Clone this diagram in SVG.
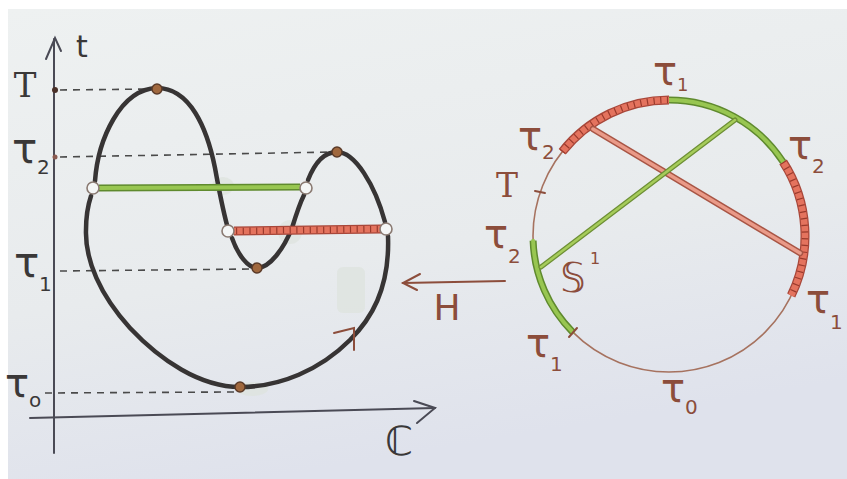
<svg xmlns="http://www.w3.org/2000/svg" width="847" height="479" viewBox="0 0 847 479">
<defs>
<linearGradient id="paper" x1="0" y1="0" x2="0.3" y2="1">
<stop offset="0" stop-color="#eef1f1"/>
<stop offset="0.6" stop-color="#e8ebed"/>
<stop offset="1" stop-color="#dfe2ec"/>
</linearGradient>
<style>
.ax{stroke:#4a4a55;stroke-width:2;fill:none;stroke-linecap:round}
.dash{stroke:#4a4a4a;stroke-width:1.6;stroke-dasharray:7 6;fill:none}
.curve{stroke:#373434;stroke-width:4.5;fill:none;stroke-linecap:round}
.dot{fill:#a0683e;stroke:#5a3a28;stroke-width:1.5}
.hole{fill:#f4f6f6;stroke:#8a7a72;stroke-width:1.6}
.gdark{stroke:#5f8a2e;stroke-width:7;fill:none;stroke-linecap:butt}
.glight{stroke:#98c651;stroke-width:4;fill:none}
.rbase{stroke:#a8473a;stroke-width:9;fill:none}
.rfill{stroke:#e4735e;stroke-width:6.5;fill:none}
.rtick{stroke:#9a3a2c;stroke-width:6.5;stroke-dasharray:1.2 5.5;fill:none}
.circ{stroke:#a6725f;stroke-width:1.6;fill:none}
.lk{font-family:"DejaVu Sans",sans-serif;fill:#3a3838}
.lb{font-family:"DejaVu Sans",sans-serif;fill:#8c4d3b}
.serif{font-family:"DejaVu Serif",serif}
.brown{stroke:#8c4d3b;stroke-width:2;fill:none;stroke-linecap:round}
.smudge{fill:#dde3dd;opacity:0.75}
</style>
</defs>
<rect x="0" y="0" width="847" height="479" fill="#ffffff"/>
<rect x="8" y="9" width="839" height="470" fill="url(#paper)"/>

<g id="smudges">
<rect class="smudge" x="337" y="267" width="28" height="46" rx="6"/>
<ellipse class="smudge" cx="223" cy="186" rx="11" ry="9"/>
<ellipse class="smudge" cx="290" cy="232" rx="12" ry="12"/>
<ellipse class="smudge" cx="252" cy="389" rx="16" ry="7"/>
</g>

<g id="axes">
<line class="ax" x1="54" y1="39" x2="54" y2="453"/>
<polyline class="ax" points="46,59 55,38 61,51"/>
<line class="ax" x1="30" y1="418" x2="435" y2="408"/>
<polyline class="ax" points="414,401 435,408 417,423"/>
</g>

<g id="dashes">
<line class="dash" x1="60" y1="90" x2="152" y2="89"/>
<line class="dash" x1="60" y1="157" x2="332" y2="152"/>
<line class="dash" x1="60" y1="271" x2="252" y2="269"/>
<line class="dash" x1="45" y1="393" x2="234" y2="392"/>
</g>

<g id="curve">
<path class="curve" d="M95,181 C98,140 120,89 157,88 C190,88 207,128 215,168 C219,190 223,210 227,225"/>
<path class="curve" d="M232,238 C238,255 248,268 257,268 C270,268 284,248 292,228 C296,215 300,203 304,195"/>
<path class="curve" d="M308,180 C315,162 325,152 337,152 C355,152 375,185 385,222"/>
<path class="curve" d="M388,236 C390,290 370,320 350,340 C320,370 280,387 240,387 C200,387 160,360 130,328 C100,295 85,260 86,230 C86,215 88,205 91,196"/>
<polyline class="brown" points="334,333 354,328 354,350"/>
</g>

<g id="bars">
<line class="gdark" x1="99" y1="188" x2="300" y2="187"/>
<line class="glight" x1="99" y1="188" x2="300" y2="187"/>
<line class="rbase" x1="234" y1="231" x2="381" y2="229"/>
<line class="rfill" x1="234" y1="231" x2="381" y2="229"/>
<line class="rtick" x1="236" y1="231" x2="381" y2="229"/>
</g>

<g id="points">
<circle class="hole" cx="93" cy="188" r="6"/>
<circle class="hole" cx="306" cy="188" r="6"/>
<circle class="hole" cx="228" cy="231" r="6"/>
<circle class="hole" cx="386" cy="229" r="6"/>
<circle class="dot" cx="157" cy="89" r="5"/>
<circle class="dot" cx="337" cy="152" r="5"/>
<circle class="dot" cx="257" cy="268" r="5"/>
<circle class="dot" cx="240" cy="387" r="5"/>
<circle cx="55" cy="90" r="3" fill="#4a3028"/>
<circle cx="55" cy="157" r="2.5" fill="#8a5a50"/>
</g>

<g id="left-labels">
<text class="lk" x="82" y="57" font-size="30" text-anchor="middle">t</text>
<text class="lk serif" x="25" y="97" font-size="34" text-anchor="middle">T</text>
<text class="lk" x="12" y="163" font-size="42">τ</text><text class="lk" x="37" y="174" font-size="20">2</text>
<text class="lk" x="14" y="277" font-size="42">τ</text><text class="lk" x="39" y="291" font-size="20">1</text>
<text class="lk" x="5" y="397" font-size="40">τ</text><text class="lk" x="29" y="407" font-size="20">o</text>
<text class="lk" x="399" y="455" font-size="40" text-anchor="middle">ℂ</text>
</g>

<g id="map-H">
<line class="brown" x1="403" y1="283" x2="505" y2="281"/>
<polyline class="brown" points="420,274 403,283 417,290"/>
<text class="lb" x="447" y="320" font-size="36" text-anchor="middle">H</text>
</g>

<g id="circle">
<circle class="circ" cx="669" cy="236" r="136"/>
<path class="rbase" d="M562.2,151.7 A136 136 0 0 1 669,100"/>
<path class="rfill" d="M562.2,151.7 A136 136 0 0 1 669,100"/>
<path class="rtick" d="M562.2,151.7 A136 136 0 0 1 669,100"/>
<path class="rbase" d="M783.1,161.9 A136 136 0 0 1 791.2,295.6"/>
<path class="rfill" d="M783.1,161.9 A136 136 0 0 1 791.2,295.6"/>
<path class="rtick" d="M783.1,161.9 A136 136 0 0 1 791.2,295.6"/>
<path class="gdark" d="M669,100 A136 136 0 0 1 783.1,161.9"/>
<path class="glight" d="M669,100 A136 136 0 0 1 783.1,161.9"/>
<path class="gdark" d="M572.8,332.2 A136 136 0 0 1 533.1,240.7" stroke-linecap="round"/>
<path class="glight" d="M572.8,332.2 A136 136 0 0 1 533.1,240.7" stroke-linecap="round"/>
<line class="brown" x1="535" y1="191" x2="545" y2="193" stroke-width="1.5"/>
<line class="brown" x1="569" y1="337" x2="577" y2="328" stroke-width="1.5"/>
</g>

<g id="chords">
<line x1="593" y1="129" x2="800" y2="253" stroke="#a85545" stroke-width="6.5" stroke-linecap="round"/>
<line x1="593" y1="129" x2="800" y2="253" stroke="#ea9a88" stroke-width="3.5" stroke-linecap="round"/>
<line x1="735" y1="120" x2="541" y2="267" stroke="#6d8f35" stroke-width="5" stroke-linecap="round"/>
<line x1="735" y1="120" x2="541" y2="267" stroke="#a6cc5a" stroke-width="2.5" stroke-linecap="round"/>
</g>

<g id="right-labels">
<text class="lb" x="653" y="85" font-size="40">τ</text><text class="lb" x="677" y="91" font-size="18">1</text>
<text class="lb" x="518" y="150" font-size="40">τ</text><text class="lb" x="542" y="159" font-size="20">2</text>
<text class="lb serif" x="507" y="197" font-size="33" text-anchor="middle">T</text>
<text class="lb" x="484" y="248" font-size="40">τ</text><text class="lb" x="508" y="263" font-size="20">2</text>
<text class="lb" x="788" y="159" font-size="40">τ</text><text class="lb" x="812" y="173" font-size="20">2</text>
<text class="lb" x="806" y="313" font-size="40">τ</text><text class="lb" x="830" y="329" font-size="20">1</text>
<text class="lb" x="526" y="357" font-size="40">τ</text><text class="lb" x="550" y="371" font-size="20">1</text>
<text class="lb" x="661" y="402" font-size="40">τ</text><text class="lb" x="685" y="414" font-size="20">0</text>
<text class="lb" x="573" y="292" font-size="40" text-anchor="middle">𝕊</text><text class="lb" x="590" y="264" font-size="16">1</text>
</g>
</svg>
